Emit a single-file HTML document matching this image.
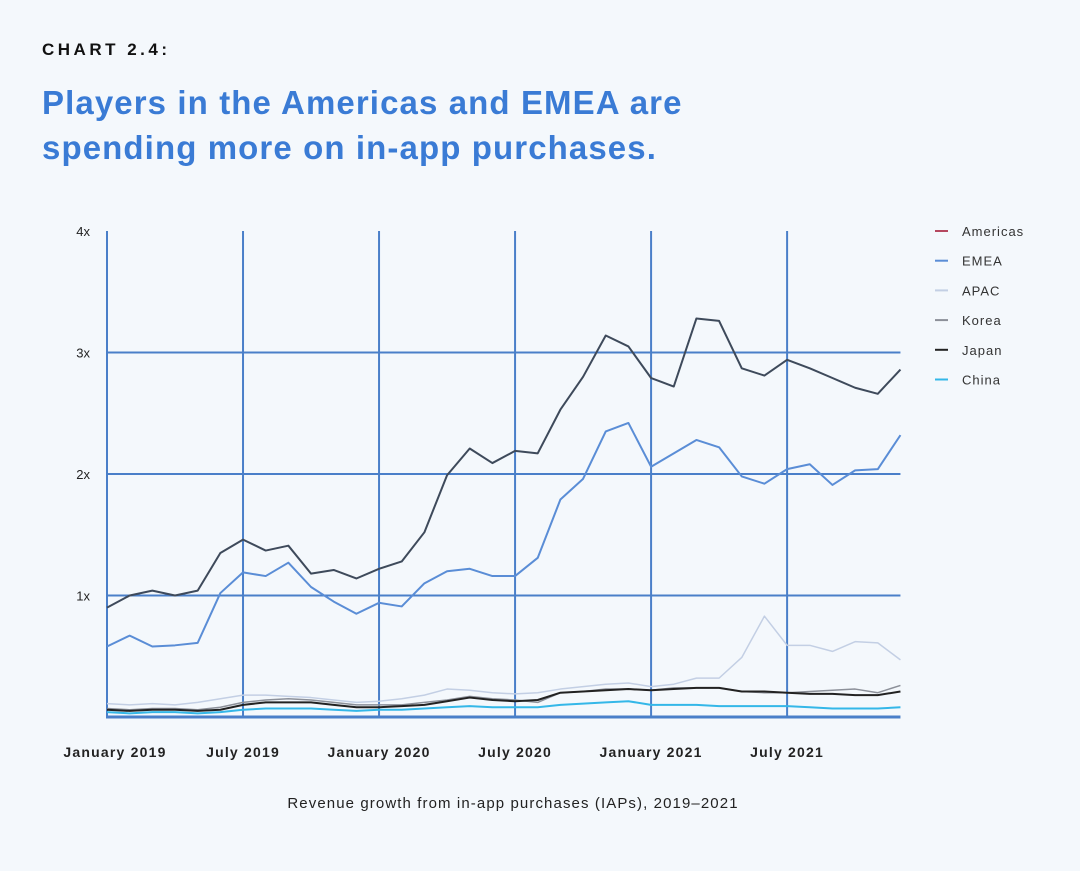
<!DOCTYPE html>
<html><head><meta charset="utf-8"><style>
html,body{margin:0;padding:0;background:#f4f8fc;}
body{width:1080px;height:871px;position:relative;overflow:hidden;font-family:"Liberation Sans",sans-serif;}
.kick{position:absolute;left:42px;top:40px;font-size:17px;font-weight:bold;letter-spacing:3.5px;color:#111;}
.title{position:absolute;left:42px;top:80px;font-size:33px;font-weight:bold;color:#3a7bd5;line-height:45px;letter-spacing:1.1px;}
svg{position:absolute;left:0;top:0;}
</style></head><body>
<div class="kick">CHART 2.4:</div>
<div class="title">Players in the Americas and EMEA are<br>spending more on in-app purchases.</div>
<svg id="chart" width="1080" height="871"></svg>
<script>
const months = 36;
const xTickLabels = ["January 2019","July 2019","January 2020","July 2020","January 2021","July 2021"];
const xTickIdx = [0,6,12,18,24,30];
const yTicks = [1,2,3,4];
const seriesNames = ["Americas","EMEA","APAC","Korea","Japan","China"];
const americas = [0.9,1.0,1.04,1.0,1.04,1.35,1.46,1.37,1.41,1.18,1.21,1.14,1.22,1.28,1.52,1.99,2.21,2.09,2.19,2.17,2.53,2.8,3.14,3.05,2.79,2.72,3.28,3.26,2.87,2.81,2.94,2.87,2.79,2.71,2.66,2.86];
const emea = [0.58,0.67,0.58,0.59,0.61,1.02,1.19,1.16,1.27,1.07,0.95,0.85,0.94,0.91,1.1,1.2,1.22,1.16,1.16,1.31,1.79,1.96,2.35,2.42,2.06,2.17,2.28,2.22,1.98,1.92,2.04,2.08,1.91,2.03,2.04,2.32];
const apac = [0.11,0.1,0.11,0.1,0.12,0.15,0.18,0.18,0.17,0.16,0.14,0.12,0.13,0.15,0.18,0.23,0.22,0.2,0.19,0.2,0.23,0.25,0.27,0.28,0.25,0.27,0.32,0.32,0.49,0.83,0.59,0.59,0.54,0.62,0.61,0.47];
const korea = [0.07,0.06,0.07,0.07,0.06,0.08,0.12,0.14,0.15,0.14,0.12,0.1,0.1,0.1,0.12,0.14,0.17,0.15,0.14,0.12,0.2,0.21,0.23,0.23,0.22,0.24,0.24,0.24,0.21,0.2,0.2,0.21,0.22,0.23,0.2,0.26];
const japan = [0.06,0.05,0.06,0.06,0.05,0.06,0.1,0.12,0.12,0.12,0.1,0.08,0.08,0.09,0.1,0.13,0.16,0.14,0.13,0.14,0.2,0.21,0.22,0.23,0.22,0.23,0.24,0.24,0.21,0.21,0.2,0.19,0.19,0.18,0.18,0.21];
const china = [0.04,0.03,0.04,0.04,0.03,0.04,0.06,0.07,0.07,0.07,0.06,0.05,0.06,0.06,0.07,0.08,0.09,0.08,0.08,0.08,0.1,0.11,0.12,0.13,0.1,0.1,0.1,0.09,0.09,0.09,0.09,0.08,0.07,0.07,0.07,0.08];

const NS="http://www.w3.org/2000/svg";
const svg=document.getElementById('chart');
const X0=107, XS=22.67, Y0=717, YS=121.5;
const xs=i=>X0+i*XS, ys=v=>Y0-v*YS;
function mk(t,a){const e=document.createElementNS(NS,t);for(const k in a)e.setAttribute(k,a[k]);svg.appendChild(e);return e;}
const grid="#4a7fc9";
yTicks.forEach(v=>{
  if(v<4){const l=mk('line',{x1:X0,x2:xs(months-1),y1:ys(v),y2:ys(v),stroke:grid,'stroke-width':2});
  
  }
  const t=mk('text',{x:90,y:ys(v)+5,'text-anchor':'end','font-size':13,fill:'#222'});t.textContent=v+'x';
  
  
});
xTickIdx.forEach((ix,k)=>{
  const l=mk('line',{x1:xs(ix),x2:xs(ix),y1:ys(4),y2:Y0,stroke:grid,'stroke-width':2});
  
  
  const t=mk('text',{x:k==0?115:xs(ix),y:757,'text-anchor':'middle','font-size':14,'font-weight':'bold','letter-spacing':1.2,fill:'#222'});t.textContent=xTickLabels[k];
  
  
});
const base=mk('line',{x1:X0-1,x2:xs(months-1),y1:Y0,y2:Y0,stroke:grid,'stroke-width':3});


const data=[americas,emea,apac,korea,japan,china];
const colors=["#3e4a5b","#5a8dd6","#c3cfe4","#8c9099","#222222","#34b7e8"];
const legendColors=["#b5485f","#5a8dd6","#c3cfe4","#8c9099","#222222","#34b7e8"];
const widths=[2,2,1.5,1.5,2,2];
[5,2,3,4,1,0].forEach(s=>{
  const p=mk('polyline',{points:data[s].map((v,i)=>xs(i)+','+ys(v)).join(' '),fill:'none',stroke:colors[s],'stroke-width':widths[s],'stroke-linejoin':'round'});
  
  
});
seriesNames.forEach((n,i)=>{
  const y=231+i*29.7;
  const l=mk('line',{x1:935,x2:948,y1:y,y2:y,stroke:legendColors[i],'stroke-width':2});
  
  
  const t=mk('text',{x:962,y:y+5,'font-size':13,'letter-spacing':1,fill:'#333'});t.textContent=n;
  
  
});
const c=mk('text',{x:513,y:808,'text-anchor':'middle','font-size':15,'letter-spacing':1.1,fill:'#222'});c.textContent="Revenue growth from in-app purchases (IAPs), 2019–2021";


</script>
</body></html>
